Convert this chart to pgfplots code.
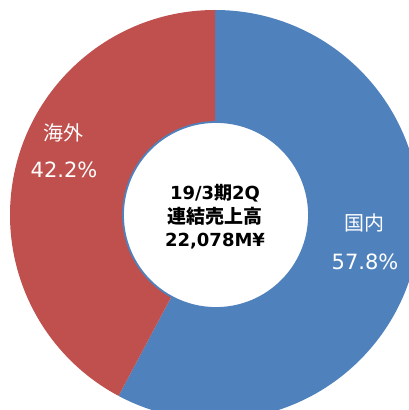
\documentclass[border=0pt]{standalone}
\usepackage{pgfplots}
\pgfplotsset{compat=1.18}
\usepackage{pgfplotstable}
\usepackage{fontspec}
\setmainfont{DejaVu Sans}
\newfontfamily\jp{Noto Sans CJK JP}
\definecolor{pieblue}{HTML}{4F81BD}
\definecolor{piered}{HTML}{C0504D}
\pgfplotstableread{
label value
国内 57.8
海外 42.2
}\piedata
\pgfplotstablegetelem{0}{value}\of\piedata \pgfmathsetmacro\vA{\pgfplotsretval}
\pgfplotstablegetelem{1}{value}\of\piedata \pgfmathsetmacro\vB{\pgfplotsretval}
\pgfmathsetmacro\aA{90-3.6*\vA}
\pgfmathsetmacro\aR{90+3.6*\vB}
\begin{document}
\begin{tikzpicture}
\begin{axis}[name=ax, width=409pt, height=410pt, scale only axis,
  xmin=0, xmax=409, ymin=0, ymax=410, hide axis, clip=true]
\addplot[draw=none] coordinates {(0,0) (409,410)};
\fill[pieblue] (axis cs:215,195) -- (axis cs:215,400) arc[start angle=90, end angle=\aA, radius=205] -- cycle;
\fill[piered] (axis cs:215,195) -- (axis cs:215,400) arc[start angle=90, end angle=\aR, radius=205] -- cycle;
\filldraw[fill=white, draw=pieblue, line width=1.8pt] (axis cs:216,195) circle[radius=93];
\node[text=white, font=\jp\fontsize{20}{24}\selectfont] at (axis cs:63,277) {海外};
\node[text=white, font=\fontsize{21}{24}\selectfont] at (axis cs:64,240) {42.2\%};
\node[text=white, font=\jp\fontsize{20}{24}\selectfont] at (axis cs:364,187) {国内};
\node[text=white, font=\fontsize{21}{24}\selectfont] at (axis cs:365,148) {57.8\%};
\node[align=center, font=\bfseries\fontsize{18}{23.5}\selectfont] at (axis cs:215,193) {19/3{\jp\bfseries 期}2Q\\{\jp\bfseries\fontsize{19}{23.5}\selectfont 連結売上高}\\22,078M¥};
\end{axis}
\pgfresetboundingbox
\useasboundingbox (ax.south west) rectangle (ax.north east);
\end{tikzpicture}
\end{document}
